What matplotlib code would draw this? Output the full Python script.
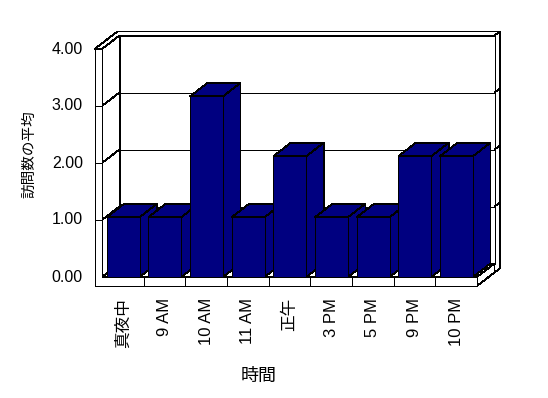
import matplotlib
matplotlib.use("Agg")
import matplotlib.pyplot as plt
from matplotlib.patches import Polygon, Rectangle

plt.rcParams['font.family'] = ['Liberation Sans', 'Noto Sans CJK JP']

# ---- data ----
categories = ['真夜中', '9 AM', '10 AM', '11 AM', '正午', '3 PM', '5 PM', '9 PM', '10 PM']
avg_visits = [1.05, 1.05, 3.17, 1.05, 2.12, 1.05, 1.05, 2.12, 2.12]
y_ticks = [0, 1, 2, 3, 4]
y_tick_labels = ['0.00', '1.00', '2.00', '3.00', '4.00']
x_title = '時間'
y_title = '訪問数の平均'

# ---- style / geometry ----
W, H = 548, 398
CW = 375 / 9.0      # px per category
UY = 57.0           # px per unit
DX = 17.5 / CW      # depth offset (x)
DY = 13.5 / UY      # depth offset (y)
T = 7.3 / CW        # left wall thickness
F = 9.0 / UY        # floor thickness
K = 1.3             # back wall outer depth factor
NAVY = '#000080'
LW = 0.6
n = len(categories)
ymax = y_ticks[-1]

fig = plt.figure(figsize=(W / 100, H / 100), dpi=100)
fig.patch.set_facecolor('white')
ax = fig.add_axes([102 / W, (H - 277) / H, 375 / W, 228 / H])
ax.set_xlim(0, n)
ax.set_ylim(0, ymax)
ax.axis('off')


def poly(pts, fc='white', z=1):
    p = Polygon(pts, closed=True, facecolor=fc, edgecolor='black', lw=LW,
                clip_on=False, zorder=z, antialiased=False, joinstyle='miter')
    ax.add_patch(p)


def line(xs, ys, z=2):
    ax.plot(xs, ys, color='black', lw=LW, clip_on=False, zorder=z,
            antialiased=False, solid_capstyle='butt')


# back wall: outer band (top + right)
poly([(-T, ymax), (-T + DX * K, ymax + DY * K), (n + DX * K, ymax + DY * K),
      (n + DX * K, DY * K - F), (n + DX, DY - F), (n + DX, ymax + DY),
      (DX, ymax + DY), (0, ymax)], z=1)
line([n + DX, n + DX * K], [ymax + DY, ymax + DY * K], z=1.5)
# back wall face
poly([(DX, DY), (n + DX, DY), (n + DX, ymax + DY), (DX, ymax + DY)], z=1.2)
# left wall inner face
poly([(0, 0), (DX, DY), (DX, ymax + DY), (0, ymax)], z=1.3)
# floor top face
poly([(0, 0), (n, 0), (n + DX, DY), (DX, DY)], z=1.4)
# floor right face
poly([(n, -F), (n, 0), (n + DX, DY), (n + DX, DY - F)], z=1.4)
# left wall + floor front face (L shape)
poly([(-T, -F), (n, -F), (n, 0), (0, 0), (0, ymax), (-T, ymax)], z=1.6)

# gridlines
for v in y_ticks[1:-1]:
    line([DX, n + DX], [v + DY, v + DY], z=1.5)
    line([0, DX], [v, v + DY], z=1.5)
    line([-T, 0], [v, v], z=1.7)
    line([n + DX, n + DX * K], [v + DY, v + DY * K], z=1.5)

# category dividers on floor front
for i in range(1, n):
    line([i, i], [-F, 0], z=1.7)

# bars
for i, v in enumerate(avg_visits):
    x0 = i + 0.115
    x1 = x0 + 0.79
    z = 3 + i * 0.1
    poly([(x1, 0), (x1 + DX, DY), (x1 + DX, v + DY), (x1, v)], fc=NAVY, z=z)
    poly([(x0, v), (x1, v), (x1 + DX, v + DY), (x0 + DX, v + DY)], fc=NAVY, z=z + 0.01)
    r = Rectangle((x0, 0), x1 - x0, v, facecolor=NAVY, edgecolor='black', lw=LW,
                  clip_on=False, zorder=z + 0.02, antialiased=False)
    ax.add_patch(r)

# y tick labels
for v, lab in zip(y_ticks, y_tick_labels):
    ax.text(-(102 - 83) / CW, v, lab, ha='right', va='center', fontsize=11.5,
            color='black', clip_on=False)

# x tick labels
for i, lab in enumerate(categories):
    ax.text(i + 0.5, -(298 - 277) / UY, lab, ha='center', va='top', rotation=90,
            fontsize=12, color='black', clip_on=False)

fig.text(29 / W, 1 - 154.5 / H, y_title, rotation=90, ha='center', va='center',
         fontsize=10.5, family=['Noto Sans CJK JP'])
fig.text(258.5 / W, 1 - 375.7 / H, x_title, ha='center', va='center',
         fontsize=13, family=['Noto Sans CJK JP'])

fig.savefig('out.png', dpi=100, facecolor='white')
